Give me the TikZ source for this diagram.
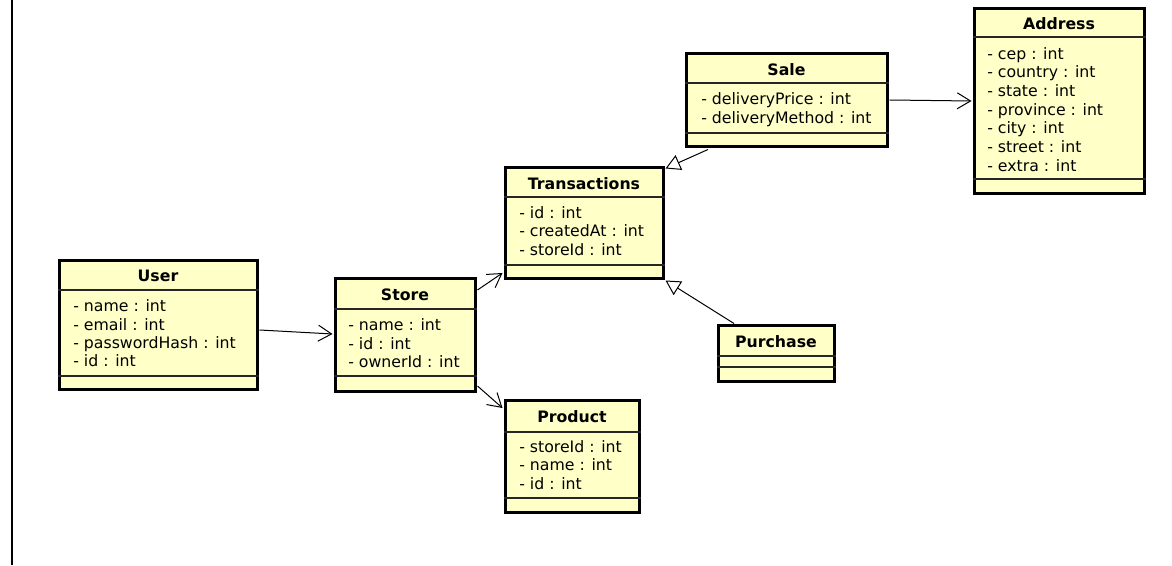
\documentclass[tikz,border=0pt]{standalone}
\usepackage{fontspec}
\setmainfont{DejaVu Sans}
\usetikzlibrary{arrows.meta,fit,calc}
\definecolor{clsfill}{HTML}{FFFFC8}
\tikzset{
  clsbox/.style={draw=black, fill=clsfill, line width=2.25pt, inner sep=0pt},
  divline/.style={draw=black!85, line width=0.8pt},
  ttl/.style={anchor=base, inner sep=0pt, font=\fontsize{11.8pt}{14pt}\selectfont\bfseries},
  attr/.style={anchor=base west, inner sep=0pt, font=\fontsize{11.8pt}{14pt}\selectfont},
  assoc/.style={draw=black, line width=0.75pt, -{Straight Barb[length=10pt,width=12pt]}},
  gen/.style={draw=black, line width=0.75pt, -{Triangle[length=11pt,width=12pt,fill=white]}},
}
\begin{document}
\begin{tikzpicture}[x=0.75pt,y=-0.75pt]
\useasboundingbox (0,0) rectangle (1172,566);
\fill[white] (0,0) rectangle (1172,566);
\draw[line width=1.2pt] (12,0) -- (12,565);

% User
\node[clsbox, fit={(59,261) (257,390)}] (user) {};
\draw[divline] (user.west |- 0,290) -- (user.east |- 0,290);
\draw[divline] (user.west |- 0,376) -- (user.east |- 0,376);
\node[ttl] (userT) at (158,282) {User};
\node[attr] (user1) at (73,312) {- name : int};
\node[attr] (user2) at (73,330.3) {- email : int};
\node[attr] (user3) at (73,348.6) {- passwordHash : int};
\node[attr] (user4) at (73,367) {- id : int};

% Store
\node[clsbox, fit={(335,279) (475,392)}] (store) {};
\draw[divline] (store.west |- 0,309) -- (store.east |- 0,309);
\draw[divline] (store.west |- 0,376) -- (store.east |- 0,376);
\node[ttl] (storeT) at (405,301) {Store};
\node[attr] (store1) at (348,331) {- name : int};
\node[attr] (store2) at (348,349.5) {- id : int};
\node[attr] (store3) at (348,368) {- ownerId : int};

% Transactions
\node[clsbox, fit={(505,168) (663,279)}] (trans) {};
\draw[divline] (trans.west |- 0,197) -- (trans.east |- 0,197);
\draw[divline] (trans.west |- 0,265) -- (trans.east |- 0,265);
\node[ttl] (transT) at (584,190) {Transactions};
\node[attr] (trans1) at (519,218.3) {- id : int};
\node[attr] (trans2) at (519,237) {- createdAt : int};
\node[attr] (trans3) at (519,255.7) {- storeId : int};

% Sale
\node[clsbox, fit={(686,54) (887,147)}] (sale) {};
\draw[divline] (sale.west |- 0,83) -- (sale.east |- 0,83);
\draw[divline] (sale.west |- 0,133) -- (sale.east |- 0,133);
\node[ttl] (saleT) at (786.5,76) {Sale};
\node[attr] (sale1) at (701,105) {- deliveryPrice : int};
\node[attr] (sale2) at (701,123.5) {- deliveryMethod : int};

% Address
\node[clsbox, fit={(974,9) (1144,194)}] (address) {};
\draw[divline] (address.west |- 0,37) -- (address.east |- 0,37);
\draw[divline] (address.west |- 0,179) -- (address.east |- 0,179);
\node[ttl] (addressT) at (1059,29.3) {Address};
\node[attr] (addr1) at (987,59.3) {- cep : int};
\node[attr] (addr2) at (987,78) {- country : int};
\node[attr] (addr3) at (987,96.7) {- state : int};
\node[attr] (addr4) at (987,115.4) {- province : int};
\node[attr] (addr5) at (987,134) {- city : int};
\node[attr] (addr6) at (987,152.8) {- street : int};
\node[attr] (addr7) at (987,171.5) {- extra : int};

% Purchase
\node[clsbox, fit={(718,326) (834,382)}] (purchase) {};
\draw[divline] (purchase.west |- 0,356) -- (purchase.east |- 0,356);
\draw[divline] (purchase.west |- 0,367) -- (purchase.east |- 0,367);
\node[ttl] (purchaseT) at (776,347.3) {Purchase};

% Product
\node[clsbox, fit={(505,401) (639,513)}] (product) {};
\draw[divline] (product.west |- 0,432) -- (product.east |- 0,432);
\draw[divline] (product.west |- 0,498) -- (product.east |- 0,498);
\node[ttl] (productT) at (572,422.7) {Product};
\node[attr] (prod1) at (519,452.7) {- storeId : int};
\node[attr] (prod2) at (519,471) {- name : int};
\node[attr] (prod3) at (519,489.3) {- id : int};

% connectors
\draw[assoc] ($(user.east |- 0,330)+(1,0)$) -- ($(store.west |- 0,334)+(-1,0)$);
\draw[assoc] ($(store.east |- 0,290)+(1,0)$) -- ($(trans.west |- 0,273)+(-1,0)$);
\draw[assoc] ($(store.east |- 0,386)+(1,0)$) -- ($(product.west |- 0,408)+(-1,0)$);
\draw[assoc] ($(sale.east |- 0,100)+(1,0)$) -- ($(address.west |- 0,101)+(-1,0)$);
\draw[gen] ($(sale.south -| 708,0)+(0,1)$) -- ($(trans.north east)+(1,2)$);
\draw[gen] ($(purchase.north -| 734,0)+(0,-1)$) -- ($(trans.south east)+(1,0)$);
\end{tikzpicture}
\end{document}
